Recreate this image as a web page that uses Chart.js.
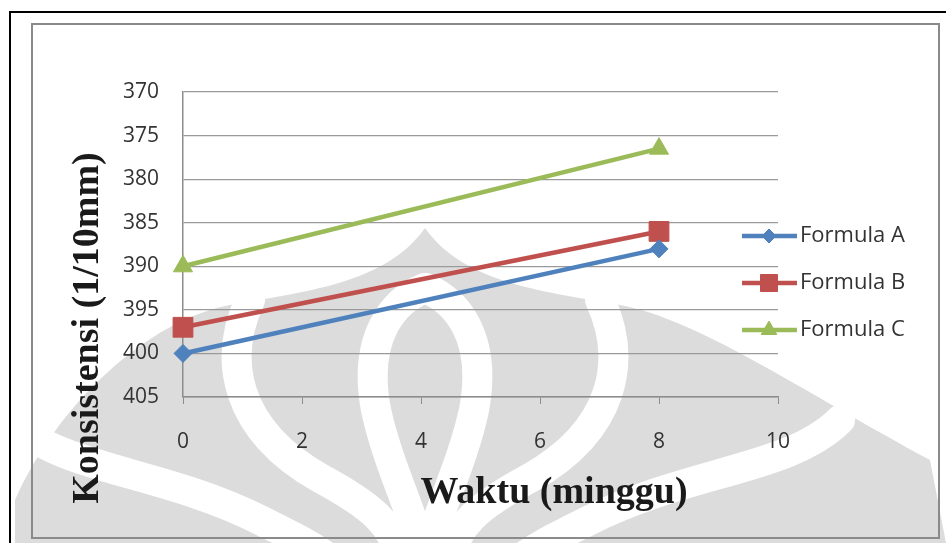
<!DOCTYPE html>
<html>
<head>
<meta charset="utf-8">
<script src="https://cdn.jsdelivr.net/npm/chart.js@4/dist/chart.umd.min.js"></script>
<style>
  html, body { margin: 0; padding: 0; background: #fff; }
  #wrap { width: 946px; height: 543px; }
</style>
</head>
<body>
<div id="wrap"><canvas id="c" width="946" height="543"></canvas></div>
<script>
// Consistency measurements over storage time
const weeks = [0, 8];
const formulaA = [400, 388];
const formulaB = [397, 386];
const formulaC = [390, 376.5];
const seriesNames = ['Formula A', 'Formula B', 'Formula C'];
const seriesColors = ['#4F81BD', '#C0504D', '#9BBB59'];
const yTickValues = [370, 375, 380, 385, 390, 395, 400, 405];
const xTickValues = [0, 2, 4, 6, 8, 10];
const xTitle = 'Waktu (minggu)';
const yTitle = 'Konsistensi (1/10mm)';

const tickFont = { family: '"Open Sans"', size: 21 };
const legendFont = '22px "Open Sans"';
const titleFont = 'bold 38px "Liberation Serif"';
const textColor = '#333333';

function toPoints(values) {
  return weeks.map((w, i) => ({ x: w, y: values[i] }));
}

// Page frame and faint emblem printed behind the chart
const backdrop = {
  id: 'backdrop',
  beforeDraw(chart) {
    const ctx = chart.ctx;
    ctx.save();
    ctx.fillStyle = '#fff';
    ctx.fillRect(0, 0, 946, 543);

    ctx.save();
    ctx.beginPath();
    ctx.rect(11, 13, 935, 530);
    ctx.clip();
    ctx.fillStyle = '#dcdcdc';
    ctx.beginPath();
    ctx.moveTo(15, 500);
    ctx.bezierCurveTo(60, 400, 150, 320, 230, 305);
    ctx.bezierCurveTo(300, 292, 385, 285, 425, 228);
    ctx.bezierCurveTo(465, 285, 550, 292, 620, 305);
    ctx.bezierCurveTo(700, 320, 800, 390, 930, 460);
    ctx.lineTo(946, 543);
    ctx.lineTo(15, 543);
    ctx.closePath();
    ctx.fill();

    ctx.strokeStyle = '#ffffff';
    ctx.lineCap = 'round';
    const mirror = (pts) => pts.map((v, i) => (i % 2 === 0 ? 850 - v : v));
    const curve = (pts, w) => {
      ctx.lineWidth = w;
      ctx.beginPath();
      ctx.moveTo(pts[0], pts[1]);
      for (let i = 2; i < pts.length; i += 6) {
        ctx.bezierCurveTo(pts[i], pts[i + 1], pts[i + 2], pts[i + 3], pts[i + 4], pts[i + 5]);
      }
      ctx.stroke();
    };
    const outerBand = [250, 300, 222, 360, 235, 430, 320, 478, 370, 505, 395, 525, 400, 560];
    const innerGap = [425, 288, 395, 300, 362, 335, 376, 410, 388, 465, 410, 505, 425, 560];
    const lowBand = [10, 420, 60, 470, 160, 470, 260, 520, 300, 540, 320, 550, 330, 560];
    [outerBand, innerGap, lowBand].forEach((p) => {
      curve(p, 30);
      curve(mirror(p), 30);
    });
    ctx.restore();

    // outer page rule
    ctx.strokeStyle = '#000';
    ctx.lineWidth = 2;
    ctx.beginPath();
    ctx.moveTo(10, 543);
    ctx.lineTo(10, 12);
    ctx.lineTo(946, 12);
    ctx.stroke();

    // chart border
    ctx.strokeStyle = '#8a8a8a';
    ctx.lineWidth = 2;
    ctx.strokeRect(32, 24, 907, 514);
    ctx.restore();
  }
};

// Axis titles and the series key
const annotations = {
  id: 'annotations',
  afterDraw(chart) {
    const ctx = chart.ctx;
    const area = chart.chartArea;
    ctx.save();
    ctx.fillStyle = '#1a1a1a';
    ctx.font = titleFont;
    ctx.textAlign = 'center';
    ctx.textBaseline = 'middle';
    ctx.fillText(xTitle, area.left + 371, area.bottom + 96);
    ctx.translate(88, 328);
    ctx.rotate(-Math.PI / 2);
    ctx.fillText(yTitle, 0, 0);
    ctx.restore();

    ctx.save();
    ctx.font = legendFont;
    ctx.textAlign = 'left';
    ctx.textBaseline = 'middle';
    chart.data.datasets.forEach((ds, i) => {
      const y = 236 + i * 47;
      ctx.strokeStyle = ds.borderColor;
      ctx.lineWidth = ds.borderWidth;
      ctx.beginPath();
      ctx.moveTo(742, y);
      ctx.lineTo(797, y);
      ctx.stroke();
      ctx.fillStyle = ds.backgroundColor;
      ctx.strokeStyle = ds.borderColor;
      ctx.lineWidth = 1;
      Chart.helpers.drawPoint(ctx, { pointStyle: ds.pointStyle, rotation: 0, radius: ds.legendRadius, borderWidth: 1 }, 769, y);
      ctx.fillStyle = textColor;
      ctx.fillText(ds.label, 800, y);
    });
    ctx.restore();
  }
};

const styles = [
  { pointStyle: 'rectRot', radius: 9, legendRadius: 7 },
  { pointStyle: 'rect', radius: 14, legendRadius: 12 },
  { pointStyle: 'triangle', radius: 11, legendRadius: 9 }
];

const datasets = [formulaA, formulaB, formulaC].map((vals, i) => ({
  label: seriesNames[i],
  data: toPoints(vals),
  borderColor: seriesColors[i],
  backgroundColor: seriesColors[i],
  borderWidth: 4.5,
  pointStyle: styles[i].pointStyle,
  pointRadius: styles[i].radius,
  pointHoverRadius: styles[i].radius,
  pointBackgroundColor: seriesColors[i],
  pointBorderColor: seriesColors[i],
  pointBorderWidth: 1,
  legendRadius: styles[i].legendRadius,
  tension: 0,
  clip: false
}));

new Chart(document.getElementById('c'), {
  type: 'line',
  data: { datasets },
  options: {
    responsive: false,
    animation: false,
    devicePixelRatio: 1,
    layout: { padding: { left: 123, right: 168, top: 92, bottom: 86 } },
    plugins: {
      legend: { display: false },
      tooltip: { enabled: false },
      title: { display: false }
    },
    scales: {
      x: {
        type: 'linear',
        min: xTickValues[0],
        max: xTickValues[xTickValues.length - 1],
        afterBuildTicks(scale) { scale.ticks = xTickValues.map((v) => ({ value: v })); },
        afterFit(scale) { scale.height = 60; },
        grid: { drawOnChartArea: false, drawTicks: true, tickLength: 7, color: '#8c8c8c', lineWidth: 1 },
        border: { display: true, color: '#8c8c8c', width: 1.5 },
        ticks: { font: tickFont, color: textColor, padding: 25, maxRotation: 0 }
      },
      y: {
        type: 'linear',
        reverse: true,
        min: yTickValues[0],
        max: yTickValues[yTickValues.length - 1],
        afterBuildTicks(scale) { scale.ticks = yTickValues.map((v) => ({ value: v })); },
        afterFit(scale) { scale.width = 60; },
        grid: { drawTicks: false, color: '#9a9a9a', lineWidth: 1.2 },
        border: { display: true, color: '#8c8c8c', width: 1.5 },
        ticks: { font: tickFont, color: textColor, padding: 24 }
      }
    }
  },
  plugins: [backdrop, annotations]
});
</script>
</body>
</html>
